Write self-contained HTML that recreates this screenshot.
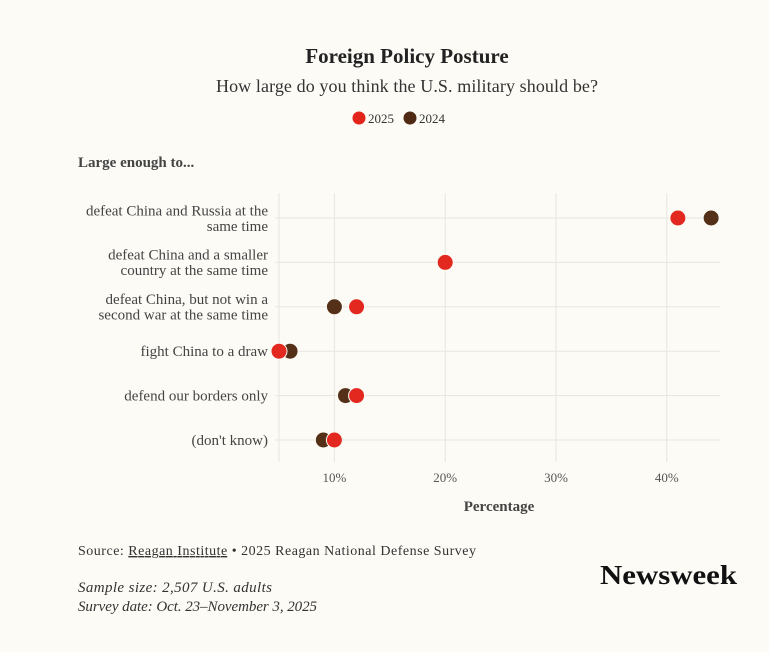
<!DOCTYPE html>
<html><head><meta charset="utf-8"><style>
html,body{margin:0;padding:0;background:#fcfbf6;}
svg{display:block;font-family:"Liberation Serif",serif;}
</style></head><body>
<svg id="c" width="769" height="652" viewBox="0 0 769 652">
<rect width="769" height="652" fill="#fcfbf6"/>
<text x="407" y="63" text-anchor="middle" font-size="21" font-weight="bold" fill="#222">Foreign Policy Posture</text>
<text x="407" y="92" text-anchor="middle" font-size="18" fill="#333" textLength="382">How large do you think the U.S. military should be?</text>
<g>
<circle cx="359" cy="118" r="6.5" fill="#e3241b"/>
<text x="368" y="123" font-size="13" fill="#333">2025</text>
<circle cx="410" cy="118" r="6.5" fill="#4e2a14"/>
<text x="419" y="123" font-size="13" fill="#333">2024</text>
</g>
<text x="78" y="167" font-size="15" font-weight="bold" fill="#444">Large enough to...</text>
<g id="grid"></g><g id="ylab"></g><g id="xlab"></g><g id="dots"></g>
<text x="499" y="511" text-anchor="middle" font-size="15" font-weight="bold" fill="#444">Percentage</text>
<text x="78" y="555" font-size="14" fill="#333" textLength="398">Source: <tspan text-decoration="underline">Reagan Institute</tspan> • 2025 Reagan National Defense Survey</text>
<text x="78" y="592" font-size="15" font-style="italic" fill="#333" textLength="194">Sample size: 2,507 U.S. adults</text>
<text x="78" y="611" font-size="15" font-style="italic" fill="#333" textLength="239">Survey date: Oct. 23–November 3, 2025</text>
<text x="600" y="584" font-size="27" font-weight="bold" fill="#111" textLength="137" lengthAdjust="spacingAndGlyphs">Newsweek</text>
</svg>
<script>
const categories=[["defeat China and Russia at the","same time"],["defeat China and a smaller","country at the same time"],["defeat China, but not win a","second war at the same time"],["fight China to a draw"],["defend our borders only"],["(don't know)"]];
const values2024=[44,20,10,6,11,9];
const values2025=[41,20,12,5,12,10];
const xTicks=[10,20,30,40];
const xTickLabels=["10%","20%","30%","40%"];
const NS="http://www.w3.org/2000/svg";
const x0=279,x1=720,d0=5,d1=44.8;
function xs(v){return x0+(v-d0)/(d1-d0)*(x1-x0);}
function ys(i){return 218+i*44.4;}
function mk(t,a,p){const e=document.createElementNS(NS,t);for(const k in a)e.setAttribute(k,a[k]);p.appendChild(e);return e;}
const grid=document.getElementById('grid'),ylab=document.getElementById('ylab'),xlab=document.getElementById('xlab'),dots=document.getElementById('dots');
[d0].concat(xTicks).forEach(v=>{const l=mk('line',{x1:xs(v),x2:xs(v),y1:193,y2:462,stroke:'#e8e6e0','stroke-width':1},grid);

});
categories.forEach((c,i)=>{const l=mk('line',{x1:x0-4,x2:x1,y1:ys(i),y2:ys(i),stroke:'#e8e6e0','stroke-width':1},grid);


const t=mk('text',{x:268,'text-anchor':'end','font-size':15,fill:'#444'},ylab);


c.forEach((s,j)=>{const ts=mk('tspan',{x:268,y:ys(i)+5+(j-(c.length-1)/2)*15.5},t);ts.textContent=s;});});
xTicks.forEach((v,i)=>{const t=mk('text',{x:xs(v),y:482,'text-anchor':'middle','font-size':13,fill:'#555'},xlab);t.textContent=xTickLabels[i];

});
categories.forEach((c,i)=>{
const a=mk('circle',{cx:xs(values2024[i]),cy:ys(i),r:8,fill:'#553019',stroke:'#fcfbf6','stroke-width':1},dots);


const b=mk('circle',{cx:xs(values2025[i]),cy:ys(i),r:8,fill:'#e3291f',stroke:'#fcfbf6','stroke-width':1},dots);

});
</script>
</body></html>
